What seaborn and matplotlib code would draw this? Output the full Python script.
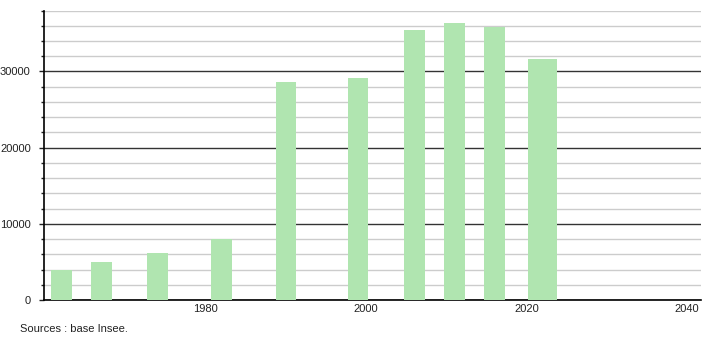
import matplotlib
matplotlib.use("Agg")
import matplotlib.pyplot as plt
import seaborn as sns
import pandas as pd
from matplotlib.ticker import MultipleLocator, FixedLocator

# Data
years = [1962, 1967, 1974, 1982, 1990, 1999, 2006, 2011, 2016, 2022]
population = [3950, 5000, 6220, 7980, 28590, 29080, 35400, 36360, 35830, 31580]
x_ticks = [1980, 2000, 2020, 2040]
y_ticks = [0, 10000, 20000, 30000]
source_text = "Sources : base Insee."

sns.set_style("white")
plt.rcParams["font.family"] = ["Liberation Sans", "DejaVu Sans"]

df = pd.DataFrame({"year": years, "pop": population})

fig = plt.figure(figsize=(7.1, 3.4), dpi=100)
ax = fig.add_axes([44 / 710, 40 / 340, (701 - 44) / 710, (300 - 10.5) / 340])

bar_color = "#b0e5b0"
sns.barplot(data=df, x="year", y="pop", native_scale=True, width=0.52,
            color=bar_color, saturation=1, ax=ax, zorder=3)

# the last bar in the reference is drawn wider
last = ax.patches[-1]
cx = last.get_x() + last.get_width() / 2
last.set_width(3.6)
last.set_x(cx - 1.8)
for p in ax.patches:
    p.set_edgecolor("none")
    p.set_zorder(3)

ax.set_xlim(1959.8, 2041.8)
ax.set_ylim(0, 38000)

ax.xaxis.set_major_locator(FixedLocator(x_ticks))
ax.set_xticklabels([str(t) for t in x_ticks])
ax.yaxis.set_major_locator(FixedLocator(y_ticks))
ax.set_yticklabels([str(t) for t in y_ticks])
ax.yaxis.set_minor_locator(MultipleLocator(2000))

ax.grid(False)
ax.yaxis.grid(True, which="minor", color="#cccccc", lw=1, zorder=1)
ax.yaxis.grid(True, which="major", color="#333333", lw=1, zorder=2)
ax.set_axisbelow(True)

ax.tick_params(axis="x", length=0, pad=3, labelsize=8, colors="#222222")
ax.tick_params(axis="y", which="major", length=3.5, width=1, pad=6,
               labelsize=8, colors="#222222", direction="out", left=True)
ax.tick_params(axis="y", which="minor", length=2, width=1, left=True,
               color="#222222", direction="out")

for s in ["top", "right"]:
    ax.spines[s].set_visible(False)
for s in ["left", "bottom"]:
    ax.spines[s].set_visible(True)
    ax.spines[s].set_color("black")
    ax.spines[s].set_linewidth(1.2)

ax.set_xlabel("")
ax.set_ylabel("")

fig.text(20 / 710, 1 - 329 / 340, source_text, fontsize=8, color="#222222",
         ha="left", va="center")

fig.savefig("out.png", dpi=100)
